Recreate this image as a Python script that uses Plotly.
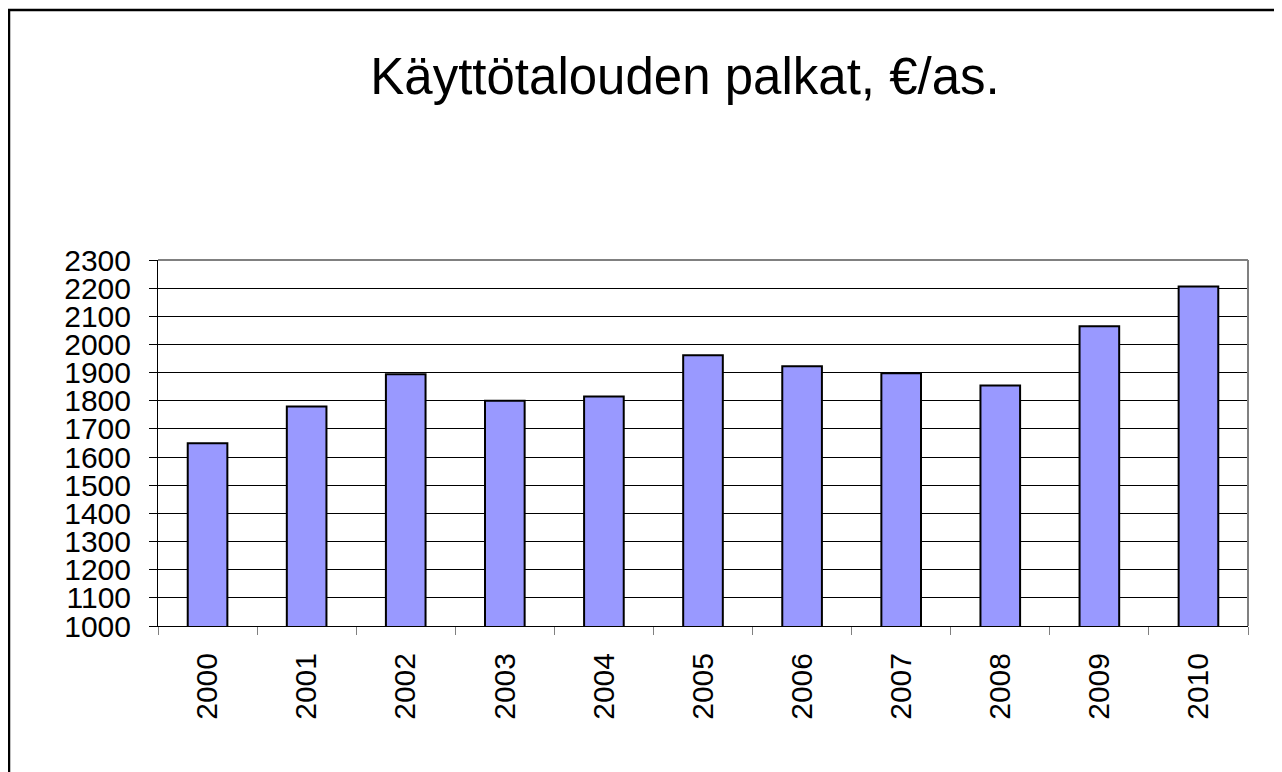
import plotly.graph_objects as go

years = ["2000", "2001", "2002", "2003", "2004", "2005", "2006", "2007", "2008", "2009", "2010"]
wages = [1649, 1780, 1894, 1800, 1815, 1962, 1923, 1898, 1854, 2065, 2206]
y_ticks = list(range(1000, 2301, 100))
title_text = "Käyttötalouden palkat, €/as."

# page has an 8px body margin, so the figure is offset by 8px
W, H = 1274, 764
L, R, T, B = 150, 34, 252, 146
pw, ph = W - L - R, H - T - B

font_family = "Liberation Sans, Arial, sans-serif"

fig = go.Figure()
fig.add_trace(go.Bar(
    x=years, y=wages,
    marker=dict(color="#9999FF", line=dict(color="black", width=2)),
    width=0.4,
))

fig.update_layout(
    width=W, height=H,
    margin=dict(l=L, r=R, t=T, b=B, pad=0),
    paper_bgcolor="white", plot_bgcolor="white",
    showlegend=False,
    font=dict(family=font_family, color="black"),
    title=dict(text=title_text, x=677 / W, xanchor="center", xref="container",
               y=1 - 68 / H, yanchor="middle", yref="container",
               font=dict(size=51, family=font_family, color="black")),
    xaxis=dict(
        type="category", tickangle=-90, tickson="boundaries",
        ticks="outside", ticklen=8, tickcolor="#808080", tickwidth=1,
        showline=True, linecolor="black", linewidth=1, mirror=False,
        showgrid=False, tickfont=dict(size=30, family=font_family, color="black"),
        ticklabelstandoff=14,
    ),
    yaxis=dict(
        range=[1000, 2300], tickvals=y_ticks, ticktext=[str(v) for v in y_ticks],
        ticks="outside", ticklen=8, tickcolor="black", tickwidth=1,
        showline=True, linecolor="black", linewidth=1,
        showgrid=True, gridcolor="black", gridwidth=1, zeroline=False,
        tickfont=dict(size=30, family=font_family, color="black"),
        ticklabelstandoff=12,
    ),
)

# plot area top/right gray border
fig.add_shape(type="line", xref="paper", yref="paper", x0=0, x1=1, y0=1, y1=1,
              line=dict(color="#808080", width=2))
fig.add_shape(type="line", xref="paper", yref="paper", x0=1, x1=1, y0=0, y1=1,
              line=dict(color="#808080", width=2))
# outer frame
fig.add_shape(type="rect", xref="paper", yref="paper",
              x0=(1 - L) / pw, x1=(W + 20 - L) / pw,
              y0=-(H + 20 - (H - B)) / ph, y1=(H - B - 2) / ph,
              line=dict(color="black", width=2.5), fillcolor="rgba(0,0,0,0)", layer="above")

fig.write_html("out.html")
